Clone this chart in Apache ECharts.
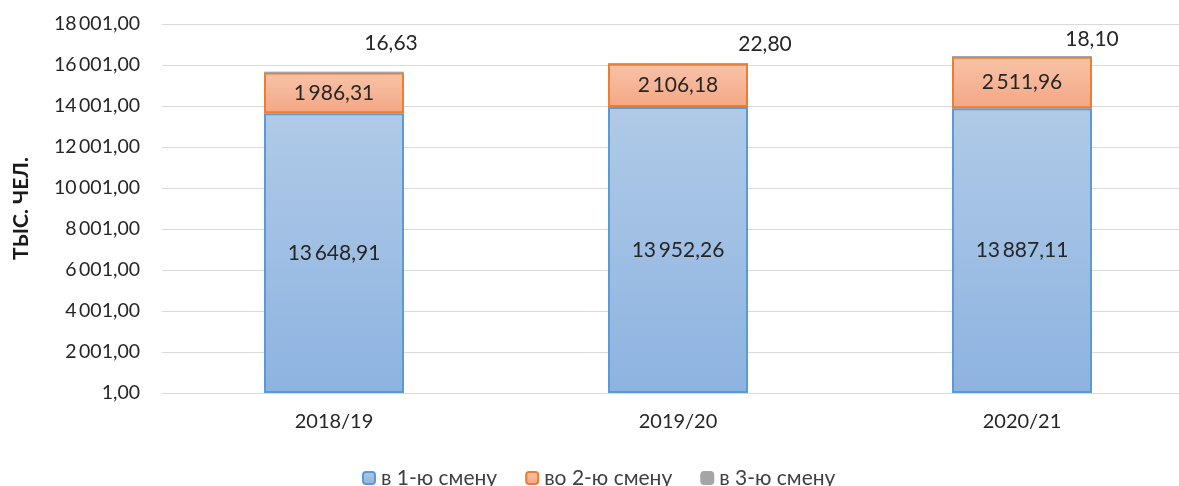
<!DOCTYPE html>
<html><head><meta charset="utf-8">
<script src="https://cdn.jsdelivr.net/npm/echarts@6/dist/echarts.min.js"></script>
<style>html,body{margin:0;padding:0;background:#fff}#c{width:1179px;height:486px}</style>
</head><body><div id="c"></div>
<script>
const categories = ['2018/19', '2019/20', '2020/21'];
const shift1 = [13648.91, 13952.26, 13887.11];
const shift2 = [1986.31, 2106.18, 2511.96];
const shift3 = [16.63, 22.80, 18.10];
const seriesNames = ['в 1-ю смену', 'во 2-ю смену', 'в 3-ю смену'];
const axisName = 'ТЫС. ЧЕЛ.';

function fmt(v) {
  const s = v.toFixed(2).split('.');
  const int = s[0].replace(/\B(?=(\d{3})+(?!\d))/g, '\u2009');
  return int + ',' + s[1];
}
// manual label placement of the small 3rd-shift labels (as in the source chart)
const smallLabelOffsets = [[57, -13], [87, -3], [70, -1]];

const FONT = 'Lato';
const chart = echarts.init(document.getElementById('c'));
chart.setOption({
  animation: false,
  textStyle: { fontFamily: FONT },
  grid: { left: 162, top: 24, width: 1032, height: 369, containLabel: false, outerBoundsMode: 'none' },
  legend: {
    top: 462, left: 357,
    itemWidth: 12, itemHeight: 12, itemGap: 28,
    textStyle: { fontSize: 21, color: '#404040', fontFamily: FONT, lineHeight: 22, padding: [0, 0, 0, 1] },
    data: seriesNames
  },
  xAxis: {
    type: 'category', data: categories,
    axisLine: { show: true, lineStyle: { color: '#d9d9d9' } },
    axisTick: { show: false },
    axisLabel: { fontSize: 20, color: '#262626', margin: 19, fontFamily: FONT }
  },
  yAxis: {
    type: 'value', min: 0, max: 18000, interval: 2000,
    name: axisName, nameLocation: 'middle', nameRotate: 90, nameGap: 130,
    nameTextStyle: { fontSize: 21, fontWeight: 'bold', color: '#1a1a1a', fontFamily: FONT },
    axisLine: { show: false }, axisTick: { show: false },
    splitLine: { lineStyle: { color: '#d9d9d9', width: 1 } },
    axisLabel: { fontSize: 19.5, color: '#262626', margin: 22, fontFamily: FONT,
      formatter: v => fmt(v + 1) }
  },
  series: [
    {
      name: seriesNames[0], type: 'bar', stack: 's', data: shift1, barWidth: '40.7%',
      itemStyle: {
        color: new echarts.graphic.LinearGradient(0, 0, 0, 1, [
          { offset: 0, color: '#b0cae7' }, { offset: 1, color: '#8db3e0' }]),
        borderColor: '#5b9bd5', borderWidth: 2
      },
      label: { show: true, position: 'inside', formatter: p => fmt(p.value),
        fontSize: 21, color: '#262626', fontFamily: FONT }
    },
    {
      name: seriesNames[1], type: 'bar', stack: 's', data: shift2,
      itemStyle: {
        color: new echarts.graphic.LinearGradient(0, 0, 0, 1, [
          { offset: 0, color: '#f8c3a8' }, { offset: 1, color: '#f4a784' }]),
        borderColor: '#ed7d31', borderWidth: 2
      },
      label: { show: true, position: 'inside', formatter: p => fmt(p.value),
        fontSize: 21, color: '#262626', fontFamily: FONT }
    },
    {
      name: seriesNames[2], type: 'bar', stack: 's',
      data: shift3.map((v, i) => ({ value: v, label: { offset: smallLabelOffsets[i] } })),
      itemStyle: { color: '#a5a5a5', borderColor: '#a5a5a5', borderWidth: 1 },
      label: { show: true, position: 'top', formatter: p => fmt(p.value),
        fontSize: 21, color: '#262626', fontFamily: FONT }
    }
  ]
});
</script></body></html>
